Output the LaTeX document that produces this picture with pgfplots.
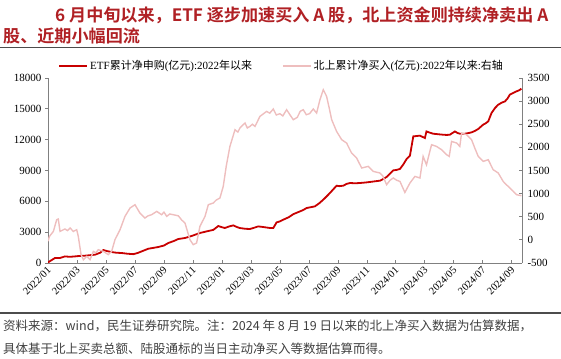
\documentclass[border=0pt]{standalone}
\usepackage{fontspec}
\setmainfont{Liberation Serif}
\newfontfamily\cjk{Noto Sans CJK SC}
\newfontfamily\cjkb{Noto Sans CJK SC Bold}
\usepackage{pgfplots}
\pgfplotsset{compat=1.18}
\definecolor{etfred}{RGB}{200,0,0}
\definecolor{pinkl}{RGB}{238,190,190}
\definecolor{titred}{RGB}{176,32,36}
\definecolor{axgray}{RGB}{128,128,128}
\definecolor{foot}{RGB}{64,64,64}
\newcommand{\zh}[1]{{\cjk #1}}
\begin{document}
\begin{tikzpicture}
\useasboundingbox (0bp,0bp) rectangle (561bp,359bp);
\node[anchor=west, text=titred, font=\cjkb\fontsize{17.1bp}{20bp}\selectfont, inner sep=0] at (55bp,344bp) {6 月中旬以来，ETF 逐步加速买入 A 股，北上资金则持续净卖出 A};
\node[anchor=west, text=titred, font=\cjkb\fontsize{17.1bp}{20bp}\selectfont, inner sep=0] at (3bp,323bp) {股、近期小幅回流};
\draw[black!70, line width=1.3bp] (0bp,311.5bp) -- (561bp,311.5bp);
\draw[black!70, line width=1.3bp] (0bp,46bp) -- (561bp,46bp);
\node[anchor=west, text=foot, font=\cjk\fontsize{12.5bp}{15bp}\selectfont, inner sep=0] at (3bp,33bp) {资料来源：wind，民生证券研究院。注：2024 年 8 月 19 日以来的北上净买入数据为估算数据，};
\node[anchor=west, text=foot, font=\cjk\fontsize{12.5bp}{15bp}\selectfont, inner sep=0] at (3bp,10bp) {具体基于北上买卖总额、陆股通标的当日主动净买入等数据估算而得。};

\pgfplotsset{every axis/.append style={
  at={(48bp,96bp)}, anchor=south west, width=474bp, height=185bp, scale only axis,
  xmin=0, xmax=32.7,
  axis line style={axgray, line width=0.8bp},
  every tick/.style={axgray, line width=0.8bp},
  major tick length=3bp,
  scaled y ticks=false,
  /pgf/number format/assume math mode=true,
  /pgf/number format/1000 sep={},
  tick label style={font=\fontsize{11bp}{13bp}\selectfont, black},
}}

\begin{axis}[
  ymin=0, ymax=18000, ytick={0,3000,...,18000},
  axis x line*=bottom, axis y line*=left,
  tick align=outside,
  xtick={0,2,...,32},
  xtick style={yshift=3bp},
  xticklabels={2022/01,2022/03,2022/05,2022/07,2022/09,2022/11,2023/01,2023/03,2023/05,2023/07,2023/09,2023/11,2024/01,2024/03,2024/05,2024/07,2024/09},
  x tick label style={rotate=45, anchor=north east, inner sep=1bp, yshift=2bp, font=\fontsize{10.5bp}{12bp}\selectfont},
]
\addplot[etfred, line width=1.8bp] coordinates {
(0,60) (0.48,486) (0.83,486) (1.17,642) (1.5,600) (1.86,642) (2.2,690) (2.55,710) (2.9,760) (3.24,808) (3.6,1000) (3.82,1260) (4.1,1150) (4.39,1070) (4.7,1000) (5.08,973) (5.5,900) (5.89,860) (6.2,980) (6.46,1129) (6.92,1391) (7.3,1480) (7.61,1557) (8.0,1700) (8.3,1946) (8.7,2150) (8.99,2335) (9.45,2432) (9.75,2560) (10.02,2686) (10.48,2919) (10.94,3075) (11.4,3220) (11.75,3600) (12.0,3480) (12.2,3405) (12.5,3560) (12.78,3658) (13.0,3520) (13.22,3405) (13.6,3330) (13.93,3308) (14.2,3420) (14.5,3561) (14.85,3500) (15.1,3450) (15.31,3405) (15.54,3400) (15.77,3950) (16.0,4050) (16.23,4213) (16.6,4450) (16.92,4750) (17.38,5020) (17.6,5150) (17.84,5350) (18.1,5420) (18.41,5510) (18.7,5800) (18.99,6160) (19.2,6450) (19.45,6810) (19.7,7200) (19.91,7520) (20.1,7480) (20.37,7520) (20.6,7700) (20.83,7780) (21.2,7760) (21.5,7780) (21.96,7840) (22.4,7920) (22.9,8010) (23.1,8150) (23.36,8370) (23.6,8700) (23.82,9010) (24.05,9060) (24.28,9150) (24.5,9565) (24.74,10120) (24.97,10450) (25.2,12320) (25.4,12350) (25.66,12390) (26.0,12160) (26.11,12800) (26.3,12700) (26.57,12580) (26.9,12530) (27.26,12480) (27.5,12460) (27.72,12480) (28.07,12800) (28.25,12650) (28.41,12580) (28.76,12580) (29.0,12640) (29.22,12710) (29.45,12850) (29.68,13040) (30.02,13460) (30.2,13600) (30.37,13780) (30.6,14600) (30.85,15100) (31.06,15400) (31.3,15600) (31.52,15720) (31.7,16000) (31.86,16380) (32.1,16550) (32.32,16700) (32.5,16800) (32.66,16960)
};
\end{axis}

\begin{axis}[
  ymin=-500, ymax=3500, ytick={-500,0,...,3500},
  axis x line=none, axis y line*=right,
  tick align=inside,
  xtick=\empty,
  y tick label style={xshift=2bp},
  legend columns=2,
  legend style={at={(0.493,1.065)}, anchor=center, draw=none, fill=none, inner sep=0pt,
    font=\fontsize{11bp}{13bp}\selectfont,
    /tikz/every even column/.append style={column sep=28bp}},
  legend cell align=left,
  legend image code/.code={\draw[#1] (0bp,0bp) -- (28bp,0bp);},
]
\addlegendimage{etfred, line width=1.8bp}
\addlegendentry{ETF\zh{累计净申购}(\zh{亿元}):2022\zh{年以来}}
\addplot[pinkl, line width=1.4bp] coordinates {
(0,-30) (0.1,75) (0.37,183) (0.6,436) (0.71,451) (0.83,183) (1.0,210) (1.17,235) (1.35,200) (1.52,257) (1.75,183) (1.98,220) (2.09,75) (2.28,-320) (2.44,-429) (2.67,-357) (2.9,-429) (3.13,-249) (3.3,-280) (3.47,-212) (3.82,-249) (4.16,-320) (4.39,-249) (4.62,4) (4.97,220) (5.31,508) (5.66,689) (6.0,760) (6.34,581) (6.69,473) (6.9,520) (7.15,544) (7.5,616) (7.84,544) (8.0,600) (8.19,508) (8.4,560) (8.64,544) (8.99,520) (9.22,430) (9.45,365) (9.79,4) (10.02,-104) (10.25,-68) (10.48,291) (10.83,508) (11.06,760) (11.4,797) (11.6,860) (11.86,905) (12.09,1157) (12.3,1600) (12.55,2021) (12.9,2382) (13.1,2330) (13.24,2418) (13.59,2527) (13.75,2420) (13.93,2453) (14.1,2500) (14.28,2453) (14.62,2670) (15.08,2778) (15.3,2740) (15.54,2830) (15.75,2700) (16.0,2728) (16.2,2680) (16.46,2814) (16.7,2700) (16.92,2598) (17.2,2650) (17.4,2780) (17.61,2814) (17.82,2706) (18.05,2730) (18.3,2830) (18.53,2743) (18.76,3030) (18.99,3247) (19.22,3102) (19.4,2850) (19.57,2598) (19.91,2345) (20.26,2166) (20.6,2094) (20.94,1878) (21.29,1770) (21.64,1554) (22.09,1589) (22.43,1481) (22.9,1446) (23.1,1380) (23.36,1193) (23.6,1290) (23.82,1338) (24.05,1290) (24.28,1264) (24.62,1026) (24.97,1230) (25.31,1372) (25.66,1338) (25.88,1805) (26.11,1625) (26.46,2058) (26.8,2021) (27.15,1950) (27.5,1841) (27.68,1805) (27.84,2129) (28.19,2094) (28.41,2021) (28.53,2310) (28.88,2274) (29.22,2166) (29.45,1980) (29.68,1805) (30.02,1697) (30.37,1733) (30.71,1517) (31.06,1446) (31.4,1264) (31.6,1200) (31.86,1122) (32.1,1050) (32.32,977) (32.66,955)
};
\addlegendentry{\zh{北上累计净买入}(\zh{亿元}):2022\zh{年以来}:\zh{右轴}}
\end{axis}
\end{tikzpicture}
\end{document}
